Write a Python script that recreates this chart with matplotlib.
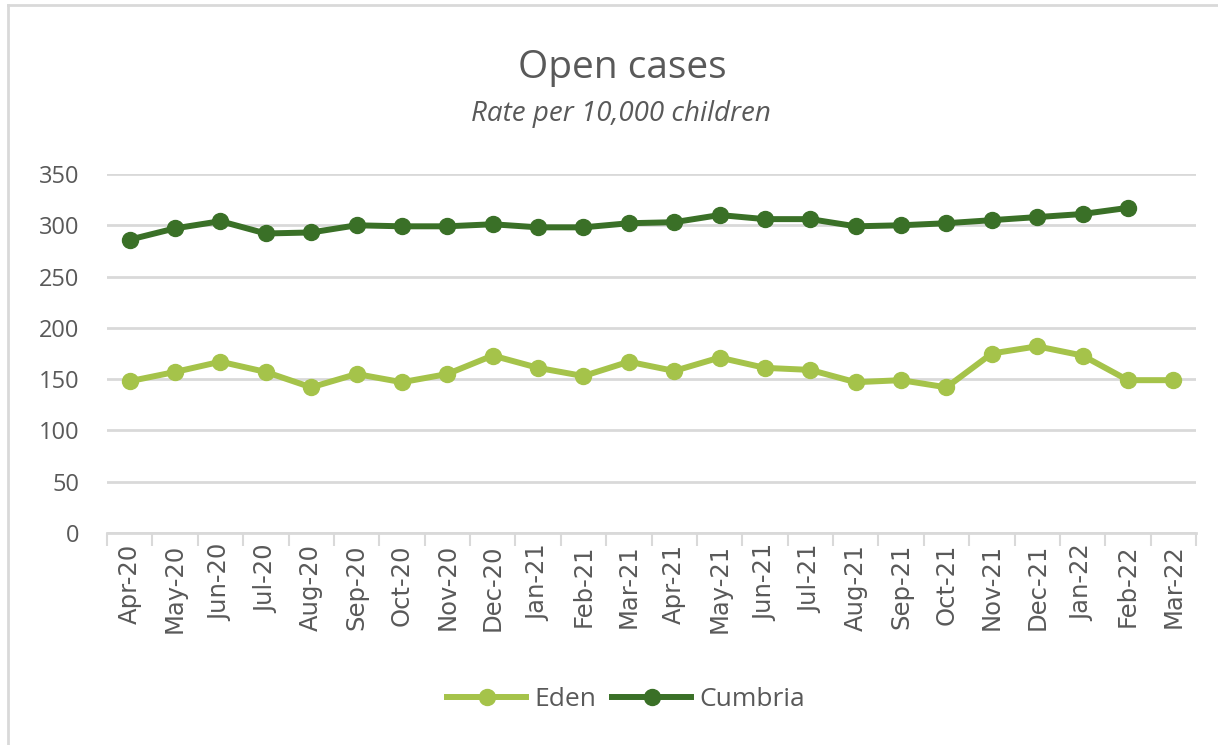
import matplotlib
matplotlib.use("Agg")
import matplotlib.pyplot as plt
from matplotlib.lines import Line2D
import numpy as np

months = ["Apr-20", "May-20", "Jun-20", "Jul-20", "Aug-20", "Sep-20", "Oct-20", "Nov-20",
          "Dec-20", "Jan-21", "Feb-21", "Mar-21", "Apr-21", "May-21", "Jun-21", "Jul-21",
          "Aug-21", "Sep-21", "Oct-21", "Nov-21", "Dec-21", "Jan-22", "Feb-22", "Mar-22"]
eden = [148, 157, 167, 157, 142, 155, 147, 155, 173, 161, 153, 167,
        158, 171, 161, 159, 147, 149, 142, 175, 182, 173, 149, 149]
cumbria = [286, 297, 304, 292, 293, 300, 299, 299, 301, 298, 298, 302,
           303, 310, 306, 306, 299, 300, 302, 305, 308, 311, 317, None]

eden_color = "#A5C34A"
cumbria_color = "#3A7027"
text_color = "#595959"
grid_color = "#D9D9D9"

fig = plt.figure(figsize=(12.18, 7.45), dpi=100)
ax = fig.add_axes([107 / 1218, 1 - 533 / 745, (1196 - 107) / 1218, (533 - 174) / 745])

x = np.arange(len(months))
cum = np.array([np.nan if v is None else v for v in cumbria], dtype=float)
ax.plot(x, eden, color=eden_color, lw=4.3, marker="o", ms=11.5, label="Eden",
        solid_capstyle="round", solid_joinstyle="round", zorder=3)
ax.plot(x, cum, color=cumbria_color, lw=4.3, marker="o", ms=11.5, label="Cumbria",
        solid_capstyle="round", solid_joinstyle="round", zorder=3)

ax.set_xlim(-0.5, len(months) - 0.5)
ax.set_ylim(0, 350)
ax.set_yticks(range(0, 351, 50))
ax.yaxis.grid(True, color=grid_color, lw=2)
ax.set_axisbelow(True)
for s in ["top", "right", "left"]:
    ax.spines[s].set_visible(False)
ax.spines["bottom"].set_color(grid_color)
ax.spines["bottom"].set_linewidth(2)

ax.set_xticks(x)
ax.set_xticklabels(months, rotation=90, fontsize=17.5, color=text_color, family="DejaVu Sans")
ax.tick_params(axis="x", length=0, pad=8)
ax.set_xticks(np.arange(-0.5, len(months), 1), minor=True)
ax.tick_params(axis="x", which="minor", length=9, width=1.5, color=grid_color)
ax.tick_params(axis="y", length=0, pad=20, labelsize=17, labelcolor=text_color)
for lab in ax.get_yticklabels():
    lab.set_family("Open Sans")

fig.text(622 / 1218, 1 - 68 / 745, "Open cases", ha="center", va="center",
         fontsize=28, color=text_color, family="Open Sans")
fig.text(621 / 1218, 1 - 114 / 745, "Rate per 10,000 children", ha="center", va="center",
         fontsize=20, color=text_color, family="Open Sans", style="italic")

handles = [Line2D([0], [0], color=eden_color, lw=4.3, marker="o", ms=11.5),
           Line2D([0], [0], color=cumbria_color, lw=4.3, marker="o", ms=11.5)]
leg = fig.legend(handles, ["Eden", "Cumbria"], loc="center", bbox_to_anchor=(626 / 1218, 1 - 700 / 745),
                 ncol=2, frameon=False, handlelength=3.0, handletextpad=0.3,
                 columnspacing=0.6, prop={"family": "Open Sans", "size": 19})
for t in leg.get_texts():
    t.set_color(text_color)

# chart border
fig.add_artist(Line2D([8 / 1218, 8 / 1218], [0, 1 - 5 / 745], color=grid_color, lw=2,
                      transform=fig.transFigure))
fig.add_artist(Line2D([8 / 1218, 1], [1 - 5 / 745, 1 - 5 / 745], color=grid_color, lw=2,
                      transform=fig.transFigure))

fig.savefig("out.png", dpi=100)
